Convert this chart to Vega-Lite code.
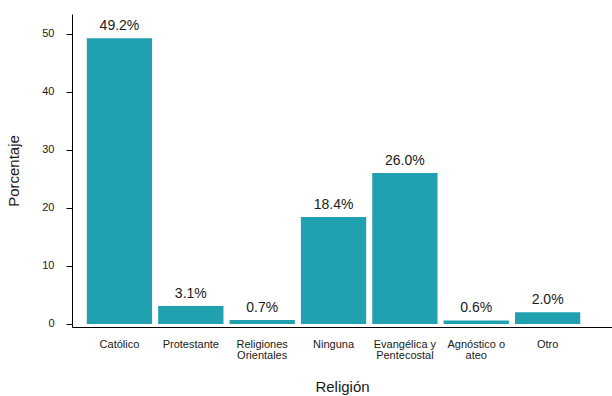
{
  "$schema": "https://vega.github.io/schema/vega-lite/v6.json",
  "width": 540,
  "height": 313,
  "autosize": "none",
  "padding": {"left": 72, "top": 14, "right": 0, "bottom": 69},
  "background": "white",
  "config": {"view": {"stroke": null}, "font": "Liberation Sans"},
  "data": {"values": [
    {"religion": "Católico", "pct": 49.2},
    {"religion": "Protestante", "pct": 3.1},
    {"religion": "Religiones Orientales", "pct": 0.7},
    {"religion": "Ninguna", "pct": 18.4},
    {"religion": "Evangélica y Pentecostal", "pct": 26.0},
    {"religion": "Agnóstico o ateo", "pct": 0.6},
    {"religion": "Otro", "pct": 2.0}
  ]},
  "transform": [{"calculate": "format(datum.pct, '.1f') + '%'", "as": "label"}],
  "encoding": {
    "x": {
      "field": "religion", "type": "nominal",
      "sort": ["Católico", "Protestante", "Religiones Orientales", "Ninguna", "Evangélica y Pentecostal", "Agnóstico o ateo", "Otro"],
      "scale": {"paddingInner": 0.085, "paddingOuter": 0.326, "align": 0.318},
      "axis": {
        "title": "Religión", "titleFontSize": 15, "titleFontWeight": "normal", "titleColor": "#1a1a1a", "titlePadding": 19,
        "labelAngle": 0, "labelFontSize": 11, "labelColor": "#1a1a1a", "labelPadding": 11, "labelLineHeight": 11,
        "labelExpr": "datum.label == 'Religiones Orientales' ? ['Religiones', 'Orientales'] : datum.label == 'Evangélica y Pentecostal' ? ['Evangélica y', 'Pentecostal'] : datum.label == 'Agnóstico o ateo' ? ['Agnóstico o', 'ateo'] : datum.label",
        "ticks": false, "tickSize": 0, "domainColor": "#000000", "domainWidth": 1, "grid": false
      }
    },
    "y": {
      "field": "pct", "type": "quantitative",
      "scale": {"domain": [-0.52, 53.36], "nice": false, "zero": false},
      "axis": {
        "title": "Porcentaje", "titleFontSize": 15, "titleFontWeight": "normal", "titleColor": "#1a1a1a", "titlePadding": 20,
        "values": [0, 10, 20, 30, 40, 50], "labelFontSize": 11, "labelColor": "#1a1a1a", "labelPadding": 12,
        "tickSize": 6, "tickColor": "#000000", "domainColor": "#000000", "domainWidth": 1, "grid": false
      }
    }
  },
  "layer": [
    {"mark": {"type": "bar", "color": "#21a0b0"}, "encoding": {"y2": {"datum": 0}}},
    {"mark": {"type": "text", "dy": -8, "baseline": "alphabetic", "fontSize": 14, "color": "#1a1a1a"}, "encoding": {"text": {"field": "label"}}}
  ]
}
